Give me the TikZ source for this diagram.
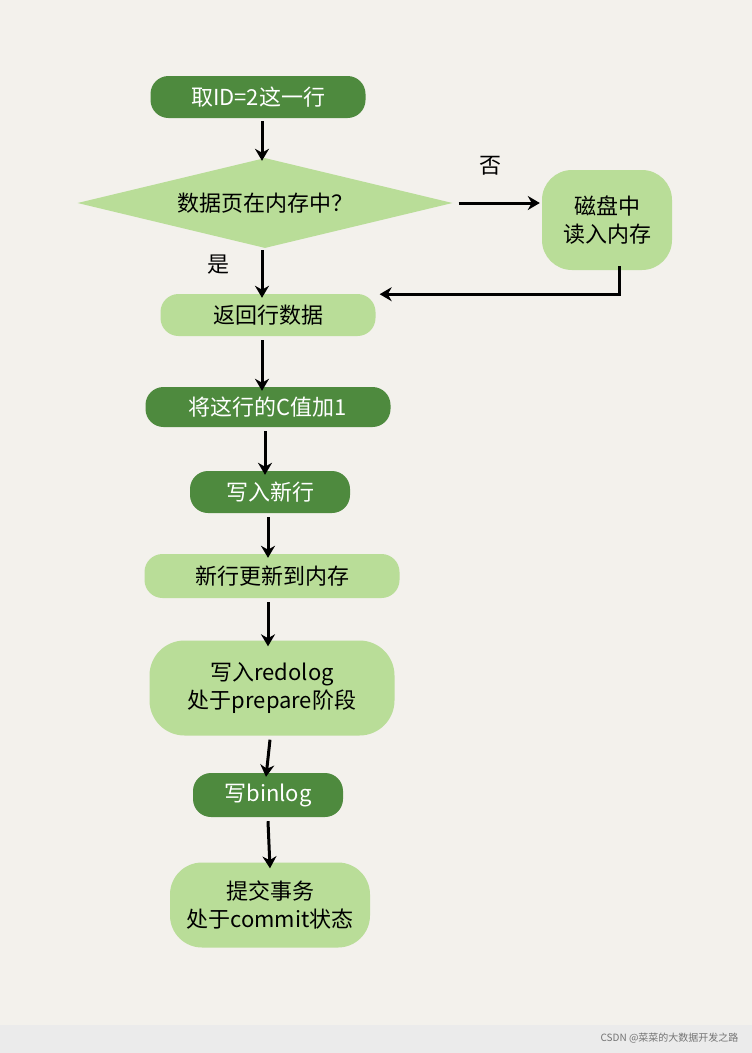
\documentclass[tikz,border=0pt]{standalone}
\usepackage{fontspec}
\setmainfont{Noto Sans CJK SC}
\usetikzlibrary{shapes.geometric,arrows.meta}
\definecolor{bg}{HTML}{F3F1EC}
\definecolor{dg}{HTML}{4E8A3E}
\definecolor{lg}{HTML}{B9DD98}
\tikzset{
 box/.style={rounded corners=18pt,inner sep=0pt,align=center,font=\fontsize{22}{28}\selectfont},
 dark/.style={box,fill=dg,text=white},
 light/.style={box,fill=lg,text=black},
 flowarr/.style={draw=black,line width=3pt,-{Stealth[length=12pt,width=14pt]}}
}
\begin{document}
\begin{tikzpicture}[x=1pt,y=-1pt]
\fill[bg] (0,0) rectangle (752,1025);
\fill[black!8] (0,1025) rectangle (752,1053);
\useasboundingbox (0,0) rectangle (752,1053);
\node[anchor=east,text=black!55,font=\fontsize{10}{12}\selectfont] (wm) at (742,1038) {CSDN @菜菜的大数据开发之路};
\node[dark,minimum width=215,minimum height=42] (n1) at (258,97) {取ID=2这一行};
\node[diamond,fill=lg,aspect=4.2,minimum width=375,minimum height=90,inner sep=0pt,font=\fontsize{22}{28}\selectfont] (n2) at (265,203) {数据页在内存中？};
\node[light,minimum width=130,minimum height=100,rounded corners=30pt] (n3) at (607,220) {磁盘中\\读入内存};
\node[light,minimum width=215,minimum height=42] (n4) at (268,315) {返回行数据};
\node[dark,minimum width=245,minimum height=40] (n5) at (268,407) {将这行的C值加1};
\node[dark,minimum width=160,minimum height=42] (n6) at (270,492) {写入新行};
\node[light,minimum width=255,minimum height=44] (n7) at (272,576) {新行更新到内存};
\node[light,minimum width=245,minimum height=95,rounded corners=35pt] (n8) at (272,688) {写入redolog\\处于prepare阶段};
\node[dark,minimum width=150,minimum height=44] (n9) at (268,795) {写binlog};
\node[light,minimum width=200,minimum height=85,rounded corners=32pt] (n10) at (270,905) {提交事务\\处于commit状态};
\node[font=\fontsize{22}{26}\selectfont] (no) at (490,166) {否};
\node[font=\fontsize{22}{26}\selectfont] (yes) at (218,265) {是};
\draw[flowarr] ([xshift=4pt,yshift=-3pt]n1.south) -- ([xshift=-3pt,yshift=-3pt]n2.north);
\draw[flowarr] ([xshift=6pt]n2.east) -- ([xshift=-2pt]n3.west|-n2.east);
\draw[flowarr] ([xshift=-3pt,yshift=-2pt]n2.south) -- ([xshift=-6pt,yshift=-4pt]n4.north);
\draw[flowarr] ([xshift=12pt,yshift=4pt]n3.south) -- ++(0,28) coordinate (c1) -- ([xshift=4pt]n4.east|-c1);
\draw[flowarr] ([xshift=-6pt,yshift=-4pt]n4.south) -- ([xshift=-6pt,yshift=-4pt]n5.north);
\draw[flowarr] ([xshift=-3pt,yshift=-4pt]n5.south) -- ([xshift=-5pt,yshift=-4pt]n6.north);
\draw[flowarr] ([xshift=-2pt,yshift=-4pt]n6.south) -- ([xshift=-4pt,yshift=-4pt]n7.north);
\draw[flowarr] ([xshift=-4pt,yshift=-4pt]n7.south) -- ([xshift=-4pt,yshift=-6pt]n8.north);
\draw[flowarr] ([xshift=-2pt,yshift=-4pt]n8.south) -- ([xshift=-2pt,yshift=-4pt]n9.north);
\draw[flowarr] ([yshift=-4pt]n9.south) -- ([yshift=-6pt]n10.north);
\end{tikzpicture}
\end{document}
